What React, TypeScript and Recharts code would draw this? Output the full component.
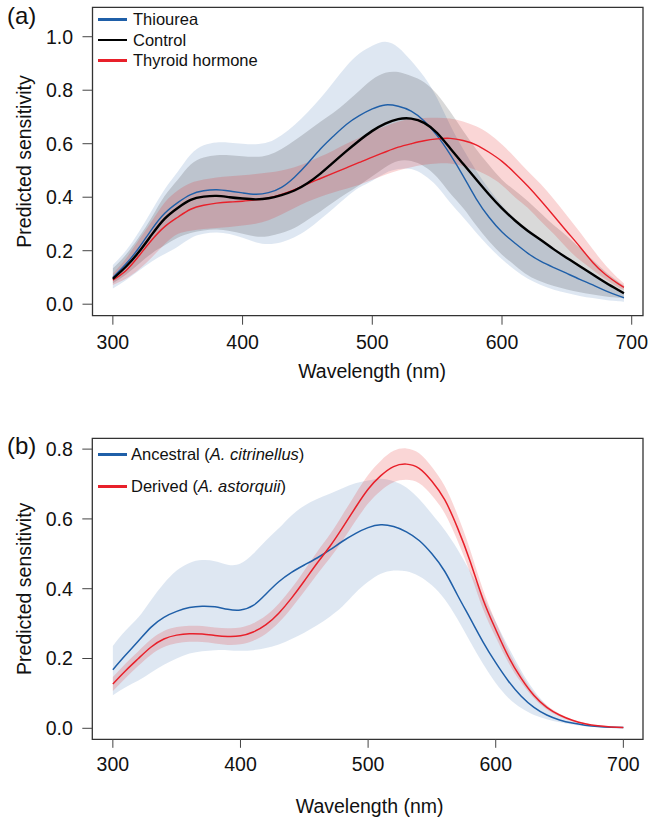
import { ComposedChart, Area, Line, XAxis, YAxis, ReferenceArea, Legend } from 'recharts';

const FONT = '"Liberation Sans", Arial, Helvetica, sans-serif';

// ---- panel (a): opsin sensitivity by treatment ----
const wavelengthA = [300, 310, 320, 330, 340, 350, 360, 370, 380, 390, 400, 410, 420, 430, 440, 450, 460, 470, 480, 490, 500, 510, 520, 530, 540, 550, 560, 570, 580, 590, 600, 610, 620, 630, 640, 650, 660, 670, 680, 690, 694];

const thioureaMean = [0.100, 0.150, 0.210, 0.280, 0.340, 0.380, 0.410, 0.424, 0.428, 0.423, 0.416, 0.411, 0.417, 0.437, 0.475, 0.525, 0.580, 0.628, 0.672, 0.705, 0.730, 0.745, 0.740, 0.722, 0.685, 0.630, 0.560, 0.480, 0.395, 0.325, 0.270, 0.228, 0.190, 0.160, 0.137, 0.115, 0.093, 0.072, 0.050, 0.031, 0.024];
const thioureaHigh = [0.147, 0.200, 0.270, 0.350, 0.430, 0.495, 0.560, 0.594, 0.605, 0.604, 0.600, 0.598, 0.606, 0.632, 0.670, 0.717, 0.770, 0.830, 0.890, 0.937, 0.966, 0.981, 0.960, 0.910, 0.850, 0.770, 0.670, 0.580, 0.500, 0.430, 0.370, 0.320, 0.280, 0.245, 0.210, 0.178, 0.147, 0.115, 0.083, 0.055, 0.045];
const thioureaLow = [0.059, 0.090, 0.125, 0.160, 0.188, 0.215, 0.247, 0.263, 0.268, 0.262, 0.248, 0.232, 0.225, 0.232, 0.250, 0.279, 0.318, 0.358, 0.400, 0.436, 0.462, 0.490, 0.505, 0.505, 0.482, 0.440, 0.380, 0.325, 0.268, 0.215, 0.168, 0.128, 0.095, 0.072, 0.054, 0.042, 0.031, 0.023, 0.016, 0.011, 0.009];

const controlMean = [0.095, 0.140, 0.195, 0.260, 0.320, 0.360, 0.390, 0.402, 0.405, 0.400, 0.395, 0.392, 0.396, 0.408, 0.425, 0.452, 0.488, 0.530, 0.572, 0.612, 0.648, 0.675, 0.692, 0.694, 0.678, 0.640, 0.583, 0.525, 0.467, 0.410, 0.358, 0.313, 0.274, 0.240, 0.205, 0.173, 0.142, 0.111, 0.080, 0.052, 0.041];
const controlHigh = [0.134, 0.185, 0.250, 0.325, 0.405, 0.465, 0.522, 0.548, 0.557, 0.557, 0.553, 0.551, 0.558, 0.580, 0.612, 0.647, 0.682, 0.716, 0.755, 0.798, 0.840, 0.865, 0.868, 0.853, 0.830, 0.785, 0.720, 0.648, 0.580, 0.520, 0.465, 0.425, 0.385, 0.340, 0.295, 0.255, 0.210, 0.165, 0.120, 0.083, 0.070];
const controlLow = [0.078, 0.110, 0.150, 0.190, 0.220, 0.248, 0.266, 0.276, 0.279, 0.274, 0.263, 0.253, 0.254, 0.266, 0.285, 0.315, 0.347, 0.381, 0.414, 0.445, 0.478, 0.512, 0.535, 0.535, 0.515, 0.475, 0.415, 0.360, 0.295, 0.235, 0.185, 0.145, 0.108, 0.085, 0.068, 0.055, 0.045, 0.036, 0.029, 0.024, 0.022];

const hormoneMean = [0.090, 0.125, 0.180, 0.240, 0.290, 0.325, 0.355, 0.370, 0.378, 0.382, 0.385, 0.390, 0.397, 0.410, 0.428, 0.450, 0.470, 0.490, 0.510, 0.530, 0.550, 0.569, 0.587, 0.600, 0.611, 0.618, 0.620, 0.612, 0.596, 0.568, 0.534, 0.490, 0.441, 0.387, 0.330, 0.272, 0.215, 0.156, 0.110, 0.075, 0.063];
const hormoneHigh = [0.115, 0.170, 0.240, 0.310, 0.380, 0.425, 0.453, 0.466, 0.474, 0.478, 0.482, 0.487, 0.492, 0.500, 0.512, 0.530, 0.552, 0.575, 0.600, 0.622, 0.645, 0.665, 0.682, 0.692, 0.696, 0.697, 0.694, 0.683, 0.665, 0.637, 0.597, 0.548, 0.497, 0.448, 0.392, 0.332, 0.270, 0.205, 0.145, 0.095, 0.078];
const hormoneLow = [0.072, 0.095, 0.130, 0.175, 0.225, 0.262, 0.275, 0.281, 0.285, 0.289, 0.294, 0.301, 0.314, 0.335, 0.360, 0.383, 0.402, 0.418, 0.432, 0.447, 0.465, 0.484, 0.500, 0.512, 0.521, 0.526, 0.526, 0.517, 0.502, 0.478, 0.445, 0.400, 0.360, 0.310, 0.262, 0.210, 0.165, 0.128, 0.092, 0.062, 0.053];

// ---- panel (b): ancestral vs derived species ----
const wavelengthB = [300, 310, 320, 330, 340, 350, 360, 370, 380, 390, 400, 410, 420, 430, 440, 450, 460, 470, 480, 490, 500, 510, 520, 530, 540, 550, 560, 570, 580, 590, 600, 610, 620, 630, 640, 650, 660, 670, 680, 690, 700];

const ancestralMean = [0.168, 0.210, 0.250, 0.290, 0.318, 0.335, 0.346, 0.350, 0.348, 0.341, 0.339, 0.352, 0.385, 0.420, 0.447, 0.468, 0.488, 0.511, 0.536, 0.558, 0.575, 0.583, 0.578, 0.563, 0.538, 0.500, 0.450, 0.382, 0.315, 0.248, 0.188, 0.135, 0.092, 0.060, 0.038, 0.024, 0.015, 0.009, 0.005, 0.003, 0.002];
const ancestralHigh = [0.236, 0.280, 0.318, 0.368, 0.415, 0.452, 0.474, 0.482, 0.479, 0.469, 0.472, 0.500, 0.538, 0.573, 0.610, 0.638, 0.657, 0.672, 0.688, 0.702, 0.710, 0.715, 0.708, 0.690, 0.657, 0.614, 0.568, 0.513, 0.449, 0.380, 0.305, 0.232, 0.165, 0.108, 0.066, 0.037, 0.020, 0.011, 0.006, 0.004, 0.003];
const ancestralLow = [0.095, 0.118, 0.137, 0.160, 0.182, 0.200, 0.214, 0.221, 0.224, 0.224, 0.222, 0.224, 0.230, 0.240, 0.256, 0.274, 0.295, 0.320, 0.350, 0.388, 0.420, 0.443, 0.452, 0.450, 0.436, 0.410, 0.370, 0.313, 0.248, 0.185, 0.130, 0.087, 0.058, 0.038, 0.026, 0.017, 0.011, 0.006, 0.004, 0.002, 0.001];

const derivedMean = [0.127, 0.165, 0.200, 0.233, 0.256, 0.267, 0.271, 0.270, 0.266, 0.263, 0.265, 0.276, 0.297, 0.330, 0.373, 0.422, 0.473, 0.521, 0.575, 0.632, 0.685, 0.724, 0.750, 0.757, 0.745, 0.708, 0.655, 0.575, 0.478, 0.370, 0.283, 0.205, 0.143, 0.094, 0.060, 0.038, 0.023, 0.013, 0.007, 0.004, 0.002];
const derivedHigh = [0.147, 0.186, 0.221, 0.255, 0.279, 0.290, 0.294, 0.293, 0.289, 0.287, 0.289, 0.301, 0.323, 0.357, 0.401, 0.452, 0.505, 0.555, 0.612, 0.671, 0.726, 0.767, 0.795, 0.802, 0.788, 0.749, 0.694, 0.612, 0.511, 0.398, 0.305, 0.222, 0.155, 0.102, 0.066, 0.042, 0.026, 0.015, 0.008, 0.005, 0.002];
const derivedLow = [0.107, 0.144, 0.179, 0.211, 0.233, 0.244, 0.248, 0.247, 0.243, 0.239, 0.241, 0.251, 0.271, 0.303, 0.345, 0.392, 0.441, 0.487, 0.538, 0.593, 0.644, 0.681, 0.705, 0.712, 0.702, 0.667, 0.616, 0.538, 0.445, 0.342, 0.261, 0.188, 0.131, 0.086, 0.054, 0.034, 0.020, 0.011, 0.006, 0.003, 0.002];

const xTicks = [300, 400, 500, 600, 700];
const yTicksA = [0, 0.2, 0.4, 0.6, 0.8, 1.0];
const yTicksB = [0, 0.2, 0.4, 0.6, 0.8];

const BLUE = '#1f5fa8';
const RED = '#e8202a';
const BLACK = '#000000';

const dataA = wavelengthA.map((w, i) => ({
  w,
  thio: thioureaMean[i],
  thioBand: [thioureaLow[i], thioureaHigh[i]],
  ctrl: controlMean[i],
  ctrlBand: [controlLow[i], controlHigh[i]],
  th: hormoneMean[i],
  thBand: [hormoneLow[i], hormoneHigh[i]],
}));

const dataB = wavelengthB.map((w, i) => ({
  w,
  anc: ancestralMean[i],
  ancBand: [ancestralLow[i], ancestralHigh[i]],
  der: derivedMean[i],
  derBand: [derivedLow[i], derivedHigh[i]],
}));

const X_DOMAIN_A = [284.3, 708.7];
const Y_DOMAIN_A = [-0.043, 1.11];
const X_DOMAIN_B = [283.9, 715.4];
const Y_DOMAIN_B = [-0.0315, 0.831];

const tickStyle = { fontSize: 19.5, fill: '#111', fontFamily: FONT };

const LegendRows = ({ items, rowHeight, gap }: any) => (
  <div style={{ fontSize: 16.5, fontFamily: FONT, color: '#111', whiteSpace: 'nowrap' }}>
    {items.map((it: any) => (
      <div key={it.key} style={{ display: 'flex', alignItems: 'center', height: rowHeight }}>
        <span style={{ display: 'inline-block', width: 29, height: 2.5, background: it.color, marginRight: gap }} />
        <span>{it.label}</span>
      </div>
    ))}
  </div>
);

const legendA = [
  { key: 'thio', color: BLUE, label: 'Thiourea' },
  { key: 'ctrl', color: BLACK, label: 'Control' },
  { key: 'th', color: RED, label: 'Thyroid hormone' },
];

const legendB = [
  { key: 'anc', color: BLUE, label: <>Ancestral (<i>A. citrinellus</i>)</> },
  { key: 'der', color: RED, label: <>Derived (<i>A. astorquii</i>)</> },
];

const yTitle = (cy: number) => () => (
  <text x={31} y={cy} transform={`rotate(-90 31 ${cy})`} textAnchor="middle" fontSize={19.5} fill="#111" fontFamily={FONT}>
    Predicted sensitivity
  </text>
);

const xTitle = (cx: number, baseline: number) => () => (
  <text x={cx} y={baseline} textAnchor="middle" fontSize={19.5} fill="#111" fontFamily={FONT}>
    Wavelength (nm)
  </text>
);

export default function App() {
  return (
    <div style={{ position: 'absolute', left: 0, top: 0, width: 651, height: 817, background: '#fff', fontFamily: FONT }}>
      <div style={{ position: 'absolute', left: 7, top: 2, fontSize: 24, color: '#111' }}>(a)</div>
      <div style={{ position: 'absolute', left: 7, top: 432, fontSize: 24, color: '#111' }}>(b)</div>

      {/* (a) */}
      <div style={{ position: 'absolute', left: 0, top: 0 }}>
        <ComposedChart width={651} height={400} data={dataA} margin={{ top: 7.3, right: 8, left: 32.5, bottom: 44.3 }}>
          <XAxis dataKey="w" type="number" domain={X_DOMAIN_A} ticks={xTicks} allowDataOverflow
            axisLine={false} tickSize={9} tickMargin={10} tick={tickStyle} tickLine={{ stroke: '#444' }} height={40}
            label={xTitle(372, 378.3)} />
          <YAxis type="number" domain={Y_DOMAIN_A} ticks={yTicksA} allowDataOverflow width={60}
            axisLine={false} tickSize={10} tickMargin={9.5} tick={tickStyle} tickLine={{ stroke: '#444' }}
            tickFormatter={(v: number) => v.toFixed(1)} label={yTitle(161.5)} />
          <Area type="natural" dataKey="thioBand" stroke="none" fill={BLUE} fillOpacity={0.15} isAnimationActive={false} activeDot={false} />
          <Area type="natural" dataKey="ctrlBand" stroke="none" fill={BLACK} fillOpacity={0.15} isAnimationActive={false} activeDot={false} />
          <Area type="natural" dataKey="thBand" stroke="none" fill="#e31a1c" fillOpacity={0.18} isAnimationActive={false} activeDot={false} />
          <Line type="natural" dataKey="thio" stroke={BLUE} strokeWidth={1.4} dot={false} activeDot={false} isAnimationActive={false} />
          <Line type="natural" dataKey="th" stroke={RED} strokeWidth={1.4} dot={false} activeDot={false} isAnimationActive={false} />
          <Line type="natural" dataKey="ctrl" stroke={BLACK} strokeWidth={2.4} dot={false} activeDot={false} isAnimationActive={false} />
          <ReferenceArea x1={X_DOMAIN_A[0]} x2={X_DOMAIN_A[1]} y1={Y_DOMAIN_A[0]} y2={Y_DOMAIN_A[1]}
            fill="none" fillOpacity={0} stroke="#333" strokeWidth={1.3} ifOverflow="visible" />
          <Legend layout="vertical" align="center" verticalAlign="middle"
            wrapperStyle={{ left: 98, top: 9, width: 'auto', height: 'auto' }}
            content={() => <LegendRows items={legendA} rowHeight={20.7} gap={6} />} />
        </ComposedChart>
      </div>

      {/* (b) */}
      <div style={{ position: 'absolute', left: 0, top: 410 }}>
        <ComposedChart width={651} height={407} data={dataB} margin={{ top: 28.3, right: 8, left: 32.3, bottom: 37.7 }}>
          <XAxis dataKey="w" type="number" domain={X_DOMAIN_B} ticks={xTicks} allowDataOverflow
            axisLine={false} tickSize={8.5} tickMargin={9} tick={tickStyle} tickLine={{ stroke: '#444' }} height={40}
            label={xTitle(369.6, 402.7)} />
          <YAxis type="number" domain={Y_DOMAIN_B} ticks={yTicksB} allowDataOverflow width={60}
            axisLine={false} tickSize={10} tickMargin={9.5} tick={tickStyle} tickLine={{ stroke: '#444' }}
            tickFormatter={(v: number) => v.toFixed(1)} label={yTitle(178.8)} />
          <Area type="natural" dataKey="ancBand" stroke="none" fill={BLUE} fillOpacity={0.15} isAnimationActive={false} activeDot={false} />
          <Area type="natural" dataKey="derBand" stroke="none" fill="#e31a1c" fillOpacity={0.18} isAnimationActive={false} activeDot={false} />
          <Line type="natural" dataKey="anc" stroke={BLUE} strokeWidth={1.5} dot={false} activeDot={false} isAnimationActive={false} />
          <Line type="natural" dataKey="der" stroke={RED} strokeWidth={1.5} dot={false} activeDot={false} isAnimationActive={false} />
          <ReferenceArea x1={X_DOMAIN_B[0]} x2={X_DOMAIN_B[1]} y1={Y_DOMAIN_B[0]} y2={Y_DOMAIN_B[1]}
            fill="none" fillOpacity={0} stroke="#333" strokeWidth={1.3} ifOverflow="visible" />
          <Legend layout="vertical" align="center" verticalAlign="middle"
            wrapperStyle={{ left: 98, top: 28.3, width: 'auto', height: 'auto' }}
            content={() => <LegendRows items={legendB} rowHeight={32} gap={4} />} />
        </ComposedChart>
      </div>
    </div>
  );
}
